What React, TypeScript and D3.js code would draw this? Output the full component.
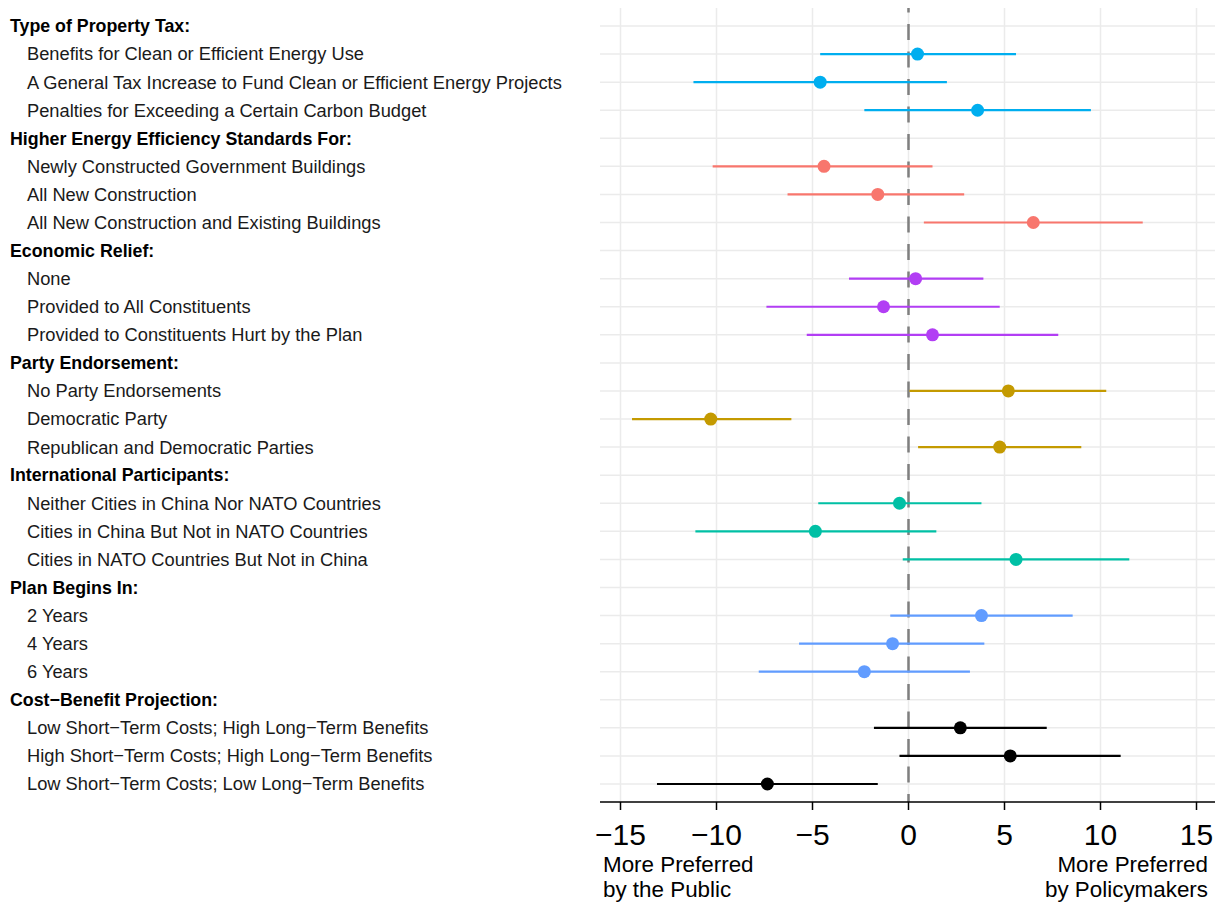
import React from 'react';
import { scaleLinear } from 'd3';

const width = 1220;
const height = 904;

// rows in display order: group header followed by its levels
const groups = [
  'Type of Property Tax:',
  'Higher Energy Efficiency Standards For:',
  'Economic Relief:',
  'Party Endorsement:',
  'International Participants:',
  'Plan Begins In:',
  'Cost\u2212Benefit Projection:',
];

const groupColors = ['#00AEEF', '#F8766D', '#B23EF4', '#C49A00', '#00C0A5', '#619CFF', '#000000'];

const levels = [
  ['Benefits for Clean or Efficient Energy Use', 'A General Tax Increase to Fund Clean or Efficient Energy Projects', 'Penalties for Exceeding a Certain Carbon Budget'],
  ['Newly Constructed Government Buildings', 'All New Construction', 'All New Construction and Existing Buildings'],
  ['None', 'Provided to All Constituents', 'Provided to Constituents Hurt by the Plan'],
  ['No Party Endorsements', 'Democratic Party', 'Republican and Democratic Parties'],
  ['Neither Cities in China Nor NATO Countries', 'Cities in China But Not in NATO Countries', 'Cities in NATO Countries But Not in China'],
  ['2 Years', '4 Years', '6 Years'],
  ['Low Short\u2212Term Costs; High Long\u2212Term Benefits', 'High Short\u2212Term Costs; High Long\u2212Term Benefits', 'Low Short\u2212Term Costs; Low Long\u2212Term Benefits'],
];

const estimates = [
  [0.47, -4.6, 3.6],
  [-4.4, -1.6, 6.5],
  [0.37, -1.3, 1.25],
  [5.2, -10.3, 4.75],
  [-0.47, -4.85, 5.6],
  [3.8, -0.83, -2.3],
  [2.7, 5.3, -7.35],
];

const lower = [
  [-4.6, -11.2, -2.3],
  [-10.2, -6.3, 0.8],
  [-3.1, -7.4, -5.3],
  [0.05, -14.4, 0.5],
  [-4.7, -11.1, -0.3],
  [-0.95, -5.7, -7.8],
  [-1.8, -0.47, -13.1],
];

const upper = [
  [5.6, 2.0, 9.5],
  [1.25, 2.9, 12.2],
  [3.9, 4.75, 7.8],
  [10.3, -6.1, 9.0],
  [3.8, 1.45, 11.5],
  [8.55, 3.95, 3.2],
  [7.2, 11.05, -1.6],
];

const xTicks = [-15, -10, -5, 0, 5, 10, 15];

type Row = { label: string; header: boolean; g: number; est?: number; lo?: number; hi?: number };

const rows: Row[] = [];
groups.forEach((g, gi) => {
  rows.push({ label: g, header: true, g: gi });
  levels[gi].forEach((l, li) => {
    rows.push({ label: l, header: false, g: gi, est: estimates[gi][li], lo: lower[gi][li], hi: upper[gi][li] });
  });
});

const panel = { left: 600, right: 1215, top: 8, bottom: 802 };

const App = () => {
  const x = scaleLinear().domain([-15, 15]).range([620.5, 1196.5]);
  const y = scaleLinear().domain([0, rows.length - 1]).range([26, 784]);
  const font = "'Liberation Sans', Arial, Helvetica, sans-serif";

  return (
    <svg width={width} height={height} style={{ position: 'absolute', left: 0, top: 0 }} fontFamily={font}>
      <rect width={width} height={height} fill="white" />
      {/* grid */}
      {xTicks.map(t => (
        <line key={'v' + t} x1={x(t)} x2={x(t)} y1={panel.top} y2={panel.bottom} stroke="#ebebeb" strokeWidth={1.5} />
      ))}
      {rows.map((r, i) => (
        <line key={'h' + i} x1={panel.left} x2={panel.right} y1={y(i)} y2={y(i)} stroke="#ebebeb" strokeWidth={1.5} />
      ))}
      {/* zero reference */}
      <line x1={x(0)} x2={x(0)} y1={panel.top} y2={panel.bottom} stroke="#7f7f7f" strokeWidth={2.5}
        strokeDasharray="16,11.5" strokeDashoffset={11.5} />
      {/* estimates */}
      {rows.filter(r => !r.header).map((r) => {
        const i = rows.indexOf(r);
        const c = groupColors[r.g];
        return (
          <g key={'p' + i}>
            <line x1={x(r.lo!)} x2={x(r.hi!)} y1={y(i)} y2={y(i)} stroke={c} strokeWidth={2.2} />
            <circle cx={x(r.est!)} cy={y(i)} r={6.5} fill={c} />
          </g>
        );
      })}
      {/* row labels */}
      {rows.map((r, i) => (
        <text key={'l' + i} x={r.header ? 10 : 27} y={y(i)} dy="0.35em" fontSize={r.header ? 17.8 : 18.3}
          fontWeight={r.header ? 'bold' : 'normal'} fill={r.header ? '#000' : '#1a1a1a'}>
          {r.label}
        </text>
      ))}
      {/* x axis */}
      <line x1={panel.left} x2={panel.right} y1={panel.bottom} y2={panel.bottom} stroke="#000" strokeWidth={1.5} />
      {xTicks.map(t => (
        <g key={'t' + t}>
          <line x1={x(t)} x2={x(t)} y1={panel.bottom} y2={panel.bottom + 8} stroke="#000" strokeWidth={1.5} />
          <text x={x(t)} y={845} textAnchor="middle" fontSize={30} fill="#000">
            {t < 0 ? '\u2212' + Math.abs(t) : String(t)}
          </text>
        </g>
      ))}
      <text x={603} y={872} fontSize={22.4} fill="#000">
        <tspan x={603}>More Preferred</tspan>
        <tspan x={603} dy={25}>by the Public</tspan>
      </text>
      <text x={1208} y={872} fontSize={22.4} fill="#000" textAnchor="end">
        <tspan x={1208}>More Preferred</tspan>
        <tspan x={1208} dy={25}>by Policymakers</tspan>
      </text>
    </svg>
  );
};

export default App;
